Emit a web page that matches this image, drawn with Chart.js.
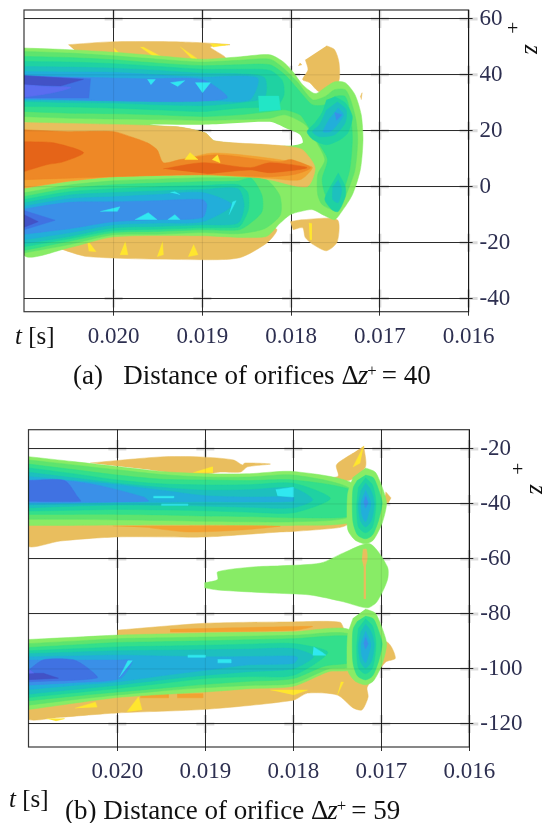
<!DOCTYPE html>
<html><head><meta charset="utf-8">
<style>
html,body{margin:0;padding:0;background:#fff;width:547px;height:823px;overflow:hidden}
canvas{position:absolute;left:0;filter:blur(0.45px)}
.t{position:absolute;font-family:'Liberation Serif',serif;color:#111;white-space:pre;line-height:1}
.t i{font-style:italic}
sup{font-size:0.62em;vertical-align:baseline;position:relative;top:-0.5em;margin-right:5px}
</style>
<script src="https://cdn.jsdelivr.net/npm/chart.js@4"></script>
</head><body>
<canvas id="ca" style="top:0"></canvas>
<canvas id="cb" style="top:420px"></canvas>
<div class="t" style="left:15px;top:323px;font-size:25px"><i>t</i> [s]</div>
<div class="t" style="left:73px;top:362px;font-size:27px">(a)   Distance of orifices <span style="letter-spacing:-1px">Δ<i>z</i></span><sup>+</sup>= 40</div>
<div class="t" style="left:507px;top:18px;font-size:20px">+</div>
<div class="t" style="left:529px;top:37px;font-size:25px;transform:rotate(90deg)"><i>z</i></div>
<div class="t" style="left:9px;top:786px;font-size:25px"><i>t</i> [s]</div>
<div class="t" style="left:65px;top:797px;font-size:27px">(b) Distance of orifice <span style="letter-spacing:-1px">Δ<i>z</i></span><sup>+</sup>= 59</div>
<div class="t" style="left:512px;top:459px;font-size:20px">+</div>
<div class="t" style="left:534px;top:477px;font-size:25px;transform:rotate(90deg)"><i>z</i></div>
<script>
// ---------- axes ----------
const tTicks = [20, 19, 18, 17, 16];          // t in milliseconds, labelled in seconds
const zTicksA = [60, 40, 20, 0, -20, -40];
const zTicksB = [-20, -40, -60, -80, -100, -120];

// ---------- contour colours ----------
const cTan='#E9BE5E', cYellow='#FFE62E', cLight='#88EC66', cGreen='#5EE46E', cSpring='#33DF8B',
      cSea='#1FD2A2', cTeal='#1DC0BE', cSky='#22AEDA', cBlue='#3A90E8', cRoyal='#4072E2',
      cIndigo='#4252C6', cViolet='#5A6DF0', cCyan='#30E8F0', cOrange='#EE8826', cAmber='#F2A232', cDeep='#E56418';

// ---------- panel (a): upper jet level curves ----------
const aUpT   = [21.01,20.5,20,19.5,19,18.6,18.24];
const aLightTop=[49.6,49,48.1,46.8,45.6,46.4,47.2];
const aGreenTop=[48.4,47.8,46.8,45.6,44.6,45.2,45.6];
const aSpringTop=[46.6,46.2,45.4,44.2,43.3,43.6,43.6];
const aSeaTop=[44.8,44.6,44,43,42,42,41.6];
const aSeaBot=[28.7,28.5,28.1,27.5,26.9,28.1,28.5];
const aGreenBot=[25.1,24.5,24.2,24,23.7,24,24.5];
const aSpringBot=[26.9,26.3,26.1,25.7,25.1,25.7,26.9];
const aSeaTip=[[18.1,38],[18.08,33],[18.15,29]];
const aTealT=[21.01,20.5,20,19.5,19,18.6];
const aTealTop=[43,42.8,42.4,41.6,40.6,40.4];
const aTealBot=[30.5,30.1,29.9,29.3,29,30];
const aTealTip=[[18.3,39],[18.3,32]];
const aSkyT=[21.01,20.5,20,19.5,19];
const aSkyTop=[41.2,41,40.9,40,39.2];
const aSkyBot=[31,31,30.9,31,31];
const aSkyTip=[[18.38,38.9],[18.47,31]];
const aBlueU=[[21.01,39.7],[19.62,38.6],[19,38.3],[18.72,31.8],[19.25,30.4],[21.01,31.4]];
const aRoyalU=[[21.01,39.7],[20.26,38.6],[20.28,31.7],[21.01,31.7]];
const aIndigoU=[[21.01,39.7],[20.34,38.4],[20.6,36],[21.01,36.5]];
const aVioletU=[[21.01,36.5],[20.75,35.8],[20.48,35.5],[20.7,33.5],[21.01,32]];
const aCrest=[[18.37,32.4],[18.14,32.4],[18.12,27.5],[18.36,27]];

// panel (a): outer envelope and mushroom contours
const aEnvelopeRight=[[18.09,44.7],[17.98,41.1],[17.87,36.5],[17.73,33.3],[17.62,35.4],[17.51,37.5],[17.39,37.2],[17.28,32.9],[17.21,25.7],[17.19,16.8],[17.22,6.1],[17.31,-2.9],[17.43,-8.9],[17.51,-11.8],[17.62,-10.4],[17.76,-8.2],[17.9,-8.9],[18.01,-10],[18.12,-12.9],[18.29,-17.9],[19.03,-17.5],[20,-17.9],[20.5,-21.8],[21.01,-24.3],[21.01,22.2],[19.31,21.5],[18.97,19.3],[18.86,16.4],[18.24,14.7],[18,14.7],[17.87,15.7],[17.9,18.6],[18.07,21.1],[18.24,23.2],[19,22.2],[21.01,22.9]];
const aGreenRight=[[18.09,42.5],[17.93,37.5],[17.76,31.1],[17.62,32.2],[17.51,34.7],[17.39,34.7],[17.33,31.1],[17.27,24],[17.25,16.8],[17.28,6.1],[17.37,-2.1],[17.45,-7.2],[17.53,-8.2],[17.65,-6.4],[17.7,-2.9],[17.7,4.3],[17.62,9.7],[17.73,16.8],[17.84,22.2],[18.07,25.7]];
const aSpringRight=[[18.07,40],[17.9,34],[17.76,29.3],[17.62,29.3],[17.51,32.2],[17.39,32.2],[17.33,25.7],[17.31,16.8],[17.34,6.1],[17.41,-1.1],[17.48,-4.6],[17.6,-3.6],[17.65,2.5],[17.59,9.7],[17.68,15],[17.84,23.2],[17.9,25.7],[18.07,27.5]];

// panel (a): lobes
const aLobeSea=[[17.51,32.2],[17.39,30],[17.31,25],[17.36,19.3],[17.45,16.8],[17.6,15],[17.75,16.8],[17.82,19.7],[17.73,22.9],[17.65,26.5],[17.6,31.1]];
const aLobeSky=[[17.48,30.4],[17.38,27.5],[17.39,22.9],[17.51,18.6],[17.68,17.9],[17.76,19.7],[17.68,22.2],[17.6,27.5]];
const aLobeBlue=[[17.47,28.2],[17.41,25.7],[17.48,22.2],[17.56,19.7],[17.64,19.7],[17.56,24.7]];
const aLobeRoyal=[[17.51,26.5],[17.43,25.7],[17.49,23.7]];
const aLobe2Sea=[[17.47,5],[17.39,0],[17.39,-3.6],[17.47,-8.9],[17.54,-8.2],[17.62,-4.6],[17.56,0]];
const aLobe2Sky=[[17.47,2.5],[17.43,-1.1],[17.47,-5.7],[17.53,-4.6],[17.53,0]];

// panel (a): lower jet level curves
const aLoT=[21.01,20.5,20,19.5,19,18.6];
const aLoGreenTop=[-2.2,0.6,2.1,2.7,3.2,3.2];
const aLoGreenBot=[-23.7,-20.7,-17.2,-17,-16.4,-16.8];
const aLoGreenTip=[[18.3,3],[18.13,-3],[18.12,-10],[18.3,-15]];
const aLoSpringTop=[-3.5,-0.6,0.7,1.3,1.8,2];
const aLoSpringBot=[-22.8,-19.5,-16.4,-16,-15.4,-15.5];
const aLoSpringTip=[[18.45,3],[18.33,-3],[18.33,-9],[18.5,-14]];
const aLoSeaTop=[-4.6,-1.8,-0.7,0,0.4,0.7];
const aLoSeaBot=[-21.5,-18.6,-15.7,-15.2,-14.7,-14.5];
const aLoSeaTip=[[18.49,-2],[18.48,-8],[18.55,-13]];
const aLoTealTop=[-5.8,-3,-2.1,-1.5,-1,-0.7];
const aLoTealBot=[-20.4,-17.8,-14.7,-14.2,-13.6,-13];
const aLoTealTip=[[18.53,-6.5]];
const aLoSkyT=[21.01,20.5,20,19.5,19];
const aLoSkyTop=[-7,-4.3,-3.6,-2.8,-2.1];
const aLoSkyBot=[-19,-16.5,-13.6,-13,-12.5];
const aLoSkyTip=[[18.67,-6.5]];
const aLoBlue=[[21.01,-8],[20.5,-5.6],[20,-5.4],[19.5,-5],[19,-4.6],[18.95,-6.4],[19,-11],[19.5,-11.8],[20,-12.5],[20.5,-15],[21.01,-17]];
const aLoRoyal=[[21.01,-8.5],[20.66,-12],[21.01,-15.4]];
const aLoIndigo=[[21.01,-10],[20.85,-12.5],[21.01,-14.5]];

// panel (a): central positive streak
const aCoreTan=[[21.01,23],[19.31,21.5],[18.97,19.3],[18.86,16.4],[18.24,15],[18,14.3],[17.87,13.2],[17.73,6.8],[17.82,0],[18.24,2.5],[18.6,4.5],[19,4.3],[19.5,4],[20,3.6],[20.5,2],[21.01,-0.5]];
const aCoreAmber=[[21.01,5],[20,7],[19.4,8],[18.9,12],[18.2,10],[17.87,8],[17.76,6.8],[17.9,2.5],[18.24,3],[19,4.3],[20,3.6],[20.5,2],[21.01,-0.5]];
const aCoreOrange=[[21.01,20.4],[20.52,19.7],[20,19.7],[19.81,17.9],[19.62,15.7],[19.51,13.2],[19.44,8.6],[19.25,9.7],[18.83,11.4],[18.13,8.9],[18,9.7],[17.78,6.8],[17.95,4.5],[18.24,3.6],[19,4.3],[20,3.6],[21.01,2.5]];
const aCoreDeep=[[21.01,16.1],[20.68,15.7],[20.34,12.2],[20.57,8.9],[20.75,7.9],[21.01,5.4]];
const aCoreFlame=[[19.44,6.4],[18.99,8.6],[18.46,6.8],[18.24,8.6],[17.82,6.8],[18.24,5],[18.46,6],[18.95,4.6]];

// panel (a): outer tan patches
const aTanTop=[[20.51,50.8],[20.04,51.8],[19.25,51.8],[18.69,50.8],[18.91,50],[18.74,46.1],[19.14,45.4],[20.38,47.2]];
const aTanBottom=[[20.64,-21.8],[20.29,-25],[19.03,-26.1],[18.58,-25.4],[18.27,-20],[18.16,-15.4],[18.29,-13.6],[20.15,-15.4]];
const aTanLobe=[[17.6,50.4],[17.51,49],[17.46,44.3],[17.47,37.2],[17.68,34],[17.79,37.2],[17.87,38.3],[17.81,41.8],[17.84,45.4]];
const aTanLobe2=[[18.01,-12.5],[17.87,-11.8],[17.48,-11.8],[17.48,-19.7],[17.6,-22.9],[17.75,-20.7],[17.84,-18.2],[17.87,-14.7],[17.98,-15.4]];
const aTanDot1=[[17.9,44.3],[17.88,43.6],[17.92,43.3]];
const aTanDot2=[[17.22,32.2],[17.2,33.6],[17.21,31.1]];

// panel (a): small yellow and cyan facets
const aYellow=[
 [[19.67,50],[19.44,46.1],[19.51,45.8],[19.7,50]],
 [[19.25,50],[19.06,45.8],[19.12,45.8]],
 [[18.91,51.1],[18.71,50.8],[18.88,50]],
 [[20,49.7],[19.9,46.5],[19.98,47.2]],
 [[19.14,12.2],[19.05,9.7],[19.2,9.7]],
 [[18.83,11.4],[18.8,8.6],[18.89,9.7]],
 [[20.3,-19],[20.2,-23.2],[20.28,-23]],
 [[19.87,-19.7],[19.84,-24.3],[19.93,-24.3]],
 [[19.45,-19.7],[19.44,-24.3],[19.51,-25]],
 [[19.1,-20.7],[19.05,-24.3],[19.16,-25]],
 [[17.8,-13],[17.77,-13.2],[17.77,-19],[17.79,-19]]
];
const aCyan=[
 [[19.62,38.3],[19.53,38.3],[19.58,36.5]],
 [[19.36,37.2],[19.2,37.9],[19.28,35.8]],
 [[19.08,37.2],[18.91,37.2],[19,33.6]],
 [[19.76,-11.8],[19.61,-9.3],[19.51,-11.8]],
 [[19.39,-11.8],[19.31,-10],[19.25,-11.8]],
 [[20.15,-8.9],[19.93,-7.2],[19.96,-8.9]],
 [[19.36,-2.1],[19.31,-1.8],[19.25,-2.9]],
 [[18.7,-10],[18.62,-5],[18.66,-5.5]]
];

// ---------- panel (b): upper jet ----------
const bT=[21.01,20.5,20,19.5,19,18.5,18];
const bUpLightTop=[-22.8,-24.6,-26.4,-28.2,-29,-29,-28.2];
const bUpLightBot=[-47.8,-47.8,-47.7,-47.6,-47.6,-47.7,-47.8];
const bUpLightTip=[[17.3,-33],[17.3,-46]];
const bUpGreenTop=[-24,-25.8,-27.6,-29.3,-30.2,-30.2,-29.5];
const bUpGreenBot=[-45.6,-45.6,-45.8,-46,-46.3,-46.5,-46.5];
const bUpGreenTip=[[17.35,-34.5],[17.35,-44.5]];
const bUpSpringTop=[-25.5,-27.5,-29.5,-31,-31.3,-31.5,-31.3];
const bUpSpringBot=[-43.8,-43.8,-43.8,-44,-44.4,-44.6,-45];
const bUpSpringTip=[[17.3,-35.5],[17.3,-44]];
const bUpSeaTop=[-26.9,-29,-31.3,-32.7,-33.1,-33,-32.5];
const bUpSeaBot=[-42.6,-42.3,-42,-42.2,-42.5,-43,-43.2];
const bUpSeaTip=[[17.58,-38]];
const bUpTealTop=[-28.5,-30.5,-32.5,-34,-35,-34.8,-34.2];
const bUpTealBot=[-41.4,-40.8,-40.4,-40.5,-40.8,-41.2,-41.4];
const bUpTealTip=[[17.78,-38.5]];
const bUpSkyTop=[-30,-31.5,-33,-35,-37,-37.5,-37.5];
const bUpSkyBot=[-40.3,-39.8,-39.4,-39.4,-39.2,-39.3,-39];
const bUpBlue=[[21.01,-31.3],[20.6,-31.5],[20.25,-33],[19.7,-37.5],[19.65,-39],[21.01,-39.5]];
const bUpRoyal=[[21.01,-31.5],[20.6,-31.5],[20.45,-37.5],[20.42,-39],[21.01,-39]];

// panel (b): lobes
const bLobeT=[17.18,17.07,17,16.94,16.99,17.09,17.18,17.3,17.38,17.39,17.38,17.32];
const bLobeLightZ=[-26.9,-28.4,-33.1,-39.6,-46.9,-53.1,-54.5,-53.1,-49.5,-43.3,-36,-30.2];
const bLobeLight2Z=[-78.2,-79.7,-84.4,-90.9,-98.2,-104.4,-105.8,-104.4,-100.8,-94.6,-87.3,-81.5];
const bLobeSpringT=[17.18,17.09,17.03,16.99,17.03,17.1,17.18,17.27,17.32,17.33,17.32,17.27];
const bLobeSpringZ=[-29.5,-30.5,-34.9,-39.6,-45.8,-51.3,-52.7,-51.3,-46.9,-40.4,-34.2,-31.3];
const bLobeSpring2Z=[-80.8,-81.8,-86.2,-90.9,-97.1,-102.6,-104,-102.6,-98.2,-91.7,-85.5,-82.6];
const bLobeSeaT=[17.18,17.1,17.06,17.1,17.18,17.26,17.28,17.26];
const bLobeSeaZ=[-30.5,-33.1,-39.6,-48.4,-50.5,-48.4,-41.1,-33.8];
const bLobeSea2Z=[-81.8,-84.4,-90.9,-99.7,-101.8,-99.7,-92.4,-85.1];
const bLobeSkyT=[17.18,17.12,17.08,17.11,17.18,17.24,17.26,17.23];
const bLobeSkyZ=[-32.4,-34.9,-39.6,-45.8,-48.4,-45.8,-40.4,-34.9];
const bLobeSky2Z=[-83.7,-86.2,-90.9,-97.1,-99.7,-97.1,-91.7,-86.2];
const bLobeBlueT=[17.18,17.12,17.15,17.18,17.22,17.23,17.2];
const bLobeBlueZ=[-34.9,-39.6,-44,-46.5,-44,-39.6,-36.7];
const bLobeBlue2Z=[-86.2,-90.9,-95.3,-97.8,-95.3,-90.9,-88];
const bLobeRoyalT=[17.18,17.15,17.18,17.2];
const bLobeRoyalZ=[-37.1,-39.6,-41.5,-39.3];
const bLobeRoyal2Z=[-88.4,-90.9,-92.8,-90.6];

// panel (b): middle patch
const bMiddle=[[19.01,-68.7],[18.86,-67.5],[18.86,-64.7],[18.45,-62.9],[18.15,-62.5],[17.69,-61.5],[17.43,-57.8],[17.13,-54.5],[16.93,-62.9],[16.93,-67.6],[17.05,-75.6],[17.16,-77.8],[17.43,-75.6],[17.81,-73.1],[18.26,-72.4],[18.86,-71.3],[19.01,-70.5]];
const bMidBlob=[[17.21,-56.5],[17.17,-56.5],[17.16,-60],[17.19,-63],[17.22,-60]];
const bMidDash=[[17.2,-62],[17.18,-62],[17.18,-74.5],[17.2,-74.5]];

// panel (b): lower jet
const bLoLightTop=[-89.3,-88.5,-87.7,-87.3,-86.9,-86.7,-86.5];
const bLoLightBot=[-114.8,-112.5,-110.4,-109.3,-108.4,-107.2,-106.3];
const bLoLightTip=[[17.35,-85.9],[17.35,-100],[17.6,-101]];
const bLoGreenTop=[-90.8,-89.9,-89,-88.7,-88.4,-88.1,-87.8];
const bLoGreenBot=[-113.2,-111.2,-109.5,-108,-106.8,-106,-105.3];
const bLoGreenTip=[[17.35,-87.5],[17.35,-99],[17.6,-100]];
const bLoSpringTop=[-92.2,-91.3,-90.4,-90.1,-89.8,-89.4,-89];
const bLoSpringBot=[-111.6,-109.9,-108.4,-107,-105.6,-104.5,-103.5];
const bLoSpringTip=[[17.3,-88.5],[17.3,-97],[17.65,-99]];
const bLoSeaTop=[-93.4,-92.7,-92,-91.7,-91.4,-91,-90.8];
const bLoSeaBot=[-110.4,-108.7,-107.1,-105.3,-103.5,-102.8,-102.3];
const bLoSeaTip=[[17.61,-94]];
const bLoTealTop=[-94.4,-93.9,-93.4,-93.2,-93,-92.8,-92.6];
const bLoTealBot=[-109.2,-107.5,-105.9,-104,-102.3,-101,-99.9];
const bLoTealTip=[[17.77,-95.5]];
const bLoSkyTop=[-95.6,-95.3,-95,-95.3,-95.6,-95.5,-95.3];
const bLoSkyBot=[-107.5,-106,-104.7,-102.5,-100.5,-98.5,-98];
const bLoSkyTip=[[17.95,-96]];
const bLoBlue=[[21.01,-96.8],[20,-96.8],[19.83,-97],[19.97,-103.5],[20.5,-105],[21.01,-105.9]];
const bLoRoyal=[[21.01,-100.5],[20.84,-96.7],[20.5,-96.7],[20.34,-99.6],[20.23,-103.3],[21.01,-104.7]];
const bLoIndigo=[[21.01,-101.6],[20.84,-101.6],[20.67,-103.4],[21.01,-103.9]];
const bLoViolet=[[21.01,-100],[20.95,-101.5],[21.01,-101.6]];

// panel (b): tan patches
const bTanTop=[[20.31,-25.1],[19.51,-22.9],[19.06,-22.9],[18.68,-24],[18.58,-25.8],[18.55,-25.1],[18.26,-25.5],[18.52,-26.5],[18.6,-28.4],[18.83,-28.4],[19.11,-29.8],[19.63,-27.6]];
const bTanLow=[[21.01,-48],[21.01,-55.5],[20.65,-53.5],[20,-52],[19,-52],[18.15,-50.2],[18,-50],[17.5,-48.7],[17.39,-47.6],[17.39,-45],[21.01,-45]];
const bTanLobe=[[17.2,-18.9],[17.18,-26.5],[17.35,-31.3],[17.69,-32],[17.64,-30.9],[17.49,-29.8],[17.51,-25.8],[17.32,-21.5]];
const bTanRight=[[16.95,-35.6],[16.89,-37.8],[16.92,-39.6],[16.97,-39.6]];
const bTanLower=[[20,-85.9],[19,-83.4],[18,-82.9],[17.47,-83],[17.41,-85.9],[16.93,-90.3],[16.84,-96.1],[16.95,-97.5],[17.16,-106.6],[17.15,-110.2],[17.22,-114.9],[17.32,-114.2],[17.5,-109.5],[17.84,-108.8],[18,-111.4],[19,-114.7],[20,-116],[20.65,-117.6],[21.01,-118.4],[21.01,-113.2],[20,-87.7]];
const bAmber=[
 [[20.05,-48],[19.2,-48],[18.15,-48],[18.6,-49.5],[19.2,-50.2],[19.63,-48.7]],
 [[19.4,-85.6],[18,-84.6],[17.78,-84.6],[18,-86],[19.4,-86.6]],
 [[19.74,-109.1],[19.42,-109.1],[19.42,-110.5],[19.74,-110.5]],
 [[19.32,-109],[19.03,-109],[19.03,-110.5],[19.32,-110.5]]
];
const bYellow=[
 [[19.14,-28.7],[18.92,-26.5],[18.92,-28.7]],
 [[20.48,-114.3],[20.25,-112.1],[20.23,-113.9]],
 [[19.89,-115.6],[19.76,-110.2],[19.72,-114.9]],
 [[20.8,-118.1],[20.6,-118.1],[20.7,-118.9]],
 [[18.26,-107.7],[17.84,-107.7],[18,-109.5]],
 [[17.46,-104.8],[17.43,-104.8],[17.5,-109.5]],
 [[17.2,-18.9],[17.32,-26.5],[17.24,-25.1]]
];
const bCyan=[
 [[18.2,-34.8],[18,-33.9],[18,-37.5],[18.18,-37]],
 [[19.59,-37.2],[19.36,-37.2],[19.36,-37.8],[19.59,-37.8]],
 [[19.5,-40],[19.2,-40],[19.2,-40.5],[19.5,-40.5]],
 [[18.86,-96.6],[18.71,-96.6],[18.71,-97.8],[18.86,-97.8]],
 [[19.98,-103],[19.83,-97],[19.88,-97],[19.96,-102]],
 [[17.77,-92],[17.67,-94],[17.63,-95],[17.78,-95]],
 [[19.2,-95],[19,-95],[19,-95.8],[19.2,-95.8]]
];

// ---------- assembling ----------
const band=(ts,top,tip,bot)=>[...ts.map((t,i)=>[t,top[i]]),...tip,...ts.map((t,i)=>[t,bot[i]]).reverse()];
const zip=(ts,zs)=>ts.map((t,i)=>[t,zs[i]]);

const layersA=[
 [cTan,aTanTop],[cTan,aTanBottom],[cTan,aTanLobe],[cTan,aTanLobe2],[cTan,aTanDot1],[cTan,aTanDot2],
 ...aYellow.slice(0,4).map(p=>[cYellow,p]),...aYellow.slice(6).map(p=>[cYellow,p]),
 [cLight,[...zip(aUpT,aLightTop),...aEnvelopeRight]],
 [cGreen,[...zip(aUpT,aGreenTop),...aGreenRight,...zip(aUpT,aGreenBot).reverse()]],
 [cSpring,[...zip(aUpT,aSpringTop),...aSpringRight,...zip(aUpT,aSpringBot).reverse()]],
 [cSea,band(aUpT,aSeaTop,aSeaTip,aSeaBot)],
 [cTeal,band(aTealT,aTealTop,aTealTip,aTealBot)],
 [cSky,band(aSkyT,aSkyTop,aSkyTip,aSkyBot)],
 [cBlue,aBlueU],[cRoyal,aRoyalU],[cIndigo,aIndigoU],[cViolet,aVioletU],['#22E6C6',aCrest],
 [cSea,aLobeSea],[cTeal,aLobeSky],[cSky,aLobeBlue],[cBlue,aLobeRoyal],
 [cSea,aLobe2Sea],[cTeal,aLobe2Sky],
 [cGreen,band(aLoT,aLoGreenTop,aLoGreenTip,aLoGreenBot)],
 [cSpring,band(aLoT,aLoSpringTop,aLoSpringTip,aLoSpringBot)],
 [cSea,band(aLoT,aLoSeaTop,aLoSeaTip,aLoSeaBot)],
 [cTeal,band(aLoT,aLoTealTop,aLoTealTip,aLoTealBot)],
 [cSky,band(aLoSkyT,aLoSkyTop,aLoSkyTip,aLoSkyBot)],
 [cBlue,aLoBlue],[cRoyal,aLoRoyal],[cIndigo,aLoIndigo],
 [cTan,aCoreTan],[cAmber,aCoreAmber],[cOrange,aCoreOrange],[cDeep,aCoreDeep],[cDeep,aCoreFlame],
 ...aYellow.slice(4,6).map(p=>[cYellow,p]),
 ...aCyan.map(p=>[cCyan,p])
];
const layersB=[
 [cTan,bTanTop],[cTan,bTanLow],[cTan,bTanLobe],[cTan,bTanRight],[cTan,bTanLower],
 ...bAmber.map(p=>[cAmber,p]),...bYellow.map(p=>[cYellow,p]),
 [cLight,band(bT,bUpLightTop,bUpLightTip,bUpLightBot)],
 [cGreen,band(bT,bUpGreenTop,bUpGreenTip,bUpGreenBot)],
 [cSpring,band(bT,bUpSpringTop,bUpSpringTip,bUpSpringBot)],
 [cSea,band(bT,bUpSeaTop,bUpSeaTip,bUpSeaBot)],
 [cTeal,band(bT,bUpTealTop,bUpTealTip,bUpTealBot)],
 [cSky,band(bT,bUpSkyTop,[],bUpSkyBot)],
 [cBlue,bUpBlue],[cRoyal,bUpRoyal],
 [cLight,bMiddle],[cTan,bMidBlob],[cTan,bMidDash],
 [cLight,band(bT,bLoLightTop,bLoLightTip,bLoLightBot)],
 [cGreen,band(bT,bLoGreenTop,bLoGreenTip,bLoGreenBot)],
 [cSpring,band(bT,bLoSpringTop,bLoSpringTip,bLoSpringBot)],
 [cSea,band(bT,bLoSeaTop,bLoSeaTip,bLoSeaBot)],
 [cTeal,band(bT,bLoTealTop,bLoTealTip,bLoTealBot)],
 [cSky,band(bT,bLoSkyTop,bLoSkyTip,bLoSkyBot)],
 [cBlue,bLoBlue],[cRoyal,bLoRoyal],[cIndigo,bLoIndigo],[cViolet,bLoViolet],
 [cLight,zip(bLobeT,bLobeLightZ)],[cSpring,zip(bLobeSpringT,bLobeSpringZ)],[cSea,zip(bLobeSeaT,bLobeSeaZ)],[cTeal,zip(bLobeSkyT,bLobeSkyZ)],[cSky,zip(bLobeBlueT,bLobeBlueZ)],[cBlue,zip(bLobeRoyalT,bLobeRoyalZ)],
 [cLight,zip(bLobeT,bLobeLight2Z)],[cSpring,zip(bLobeSpringT,bLobeSpring2Z)],[cSea,zip(bLobeSeaT,bLobeSea2Z)],[cTeal,zip(bLobeSkyT,bLobeSky2Z)],[cSky,zip(bLobeBlueT,bLobeBlue2Z)],[cBlue,zip(bLobeRoyalT,bLobeRoyal2Z)],
 ...bCyan.map(p=>[cCyan,p])
];

const frame={
 id:'frame',
 beforeDatasetsDraw(ch){
  const {ctx,scales:{x,y}}=ch;
  ctx.save();
  ctx.strokeStyle='rgba(0,0,0,0.14)';ctx.lineWidth=3;
  for(const v of tTicks){const px=x.getPixelForValue(v);
    for(const w of ch.options.zList){const py=y.getPixelForValue(w);
      ctx.beginPath();ctx.moveTo(px-9,py);ctx.lineTo(px+9,py);ctx.moveTo(px,py-9);ctx.lineTo(px,py+9);ctx.stroke();}}
  ctx.restore();
 },
 afterDatasetsDraw(ch){
  const {ctx,chartArea:a,scales:{x,y}}=ch;
  ctx.save();
  ctx.strokeStyle='rgba(0,0,0,0.09)';ctx.lineWidth=1;
  ctx.beginPath();
  for(const v of tTicks){const px=x.getPixelForValue(v);ctx.moveTo(px,a.top);ctx.lineTo(px,a.bottom);}
  for(const w of ch.options.zList){const py=y.getPixelForValue(w);ctx.moveTo(a.left,py);ctx.lineTo(a.right,py);}
  ctx.stroke();
  ctx.strokeStyle='rgba(20,20,20,0.85)';ctx.lineWidth=1.2;
  ctx.strokeRect(a.left,a.top,a.right-a.left,a.bottom-a.top);
  ctx.restore();
 }
};

function draw(id,w,h,layers,zList,zMin,zMax,left,top,right,bottom){
 const cv=document.getElementById(id);cv.width=w;cv.height=h;cv.style.width=w+'px';cv.style.height=h+'px';
 return new Chart(cv,{
  type:'scatter',
  data:{datasets:layers.slice().reverse().map(([c,p])=>({
    data:p.map(q=>({x:q[0],y:q[1]})),showLine:true,fill:'shape',tension:p.length>=5?0.25:0,
    backgroundColor:c,borderColor:c,borderWidth:0.5,pointRadius:0,pointHitRadius:0}))},
  plugins:[frame],
  options:{
   responsive:false,animation:false,devicePixelRatio:1,parsing:false,zList,events:[],
   layout:{autoPadding:false,padding:{left,top,right:0,bottom:0}},
   plugins:{legend:{display:false},title:{display:false},tooltip:{enabled:false}},
   scales:{
    x:{type:'linear',reverse:true,min:16,max:21.01,position:'bottom',
       afterFit(s){s.height=h-bottom;s.paddingLeft=0;s.paddingRight=0;},
       afterBuildTicks(s){s.ticks=tTicks.map(v=>({value:v}));},
       grid:{color:'rgba(10,10,10,0.85)',lineWidth:1,tickLength:4,drawTicks:true},border:{display:false},
       ticks:{autoSkip:false,maxRotation:0,minRotation:0,padding:7,color:'#2D2F50',font:{family:'Liberation Serif',size:23},callback:v=>(v/1000).toFixed(3)}},
    y:{type:'linear',min:zMin,max:zMax,position:'right',
       afterFit(s){s.width=w-right;s.paddingTop=0;s.paddingBottom=0;},
       afterBuildTicks(s){s.ticks=zList.map(v=>({value:v}));},
       grid:{color:'rgba(10,10,10,0.85)',lineWidth:1,tickLength:4,drawTicks:true},border:{display:false},
       ticks:{autoSkip:false,padding:7,color:'#2D2F50',font:{family:'Liberation Serif',size:23},callback:v=>String(v)}}
   }
  }
 });
}
draw('ca',547,360,layersA,zTicksA,-44.7,63.2,24,10,468.6,311.7);
draw('cb',547,370,layersB,zTicksB,-128.4,-13,28.5,9.7,469.3,327);
</script>
</body></html>
